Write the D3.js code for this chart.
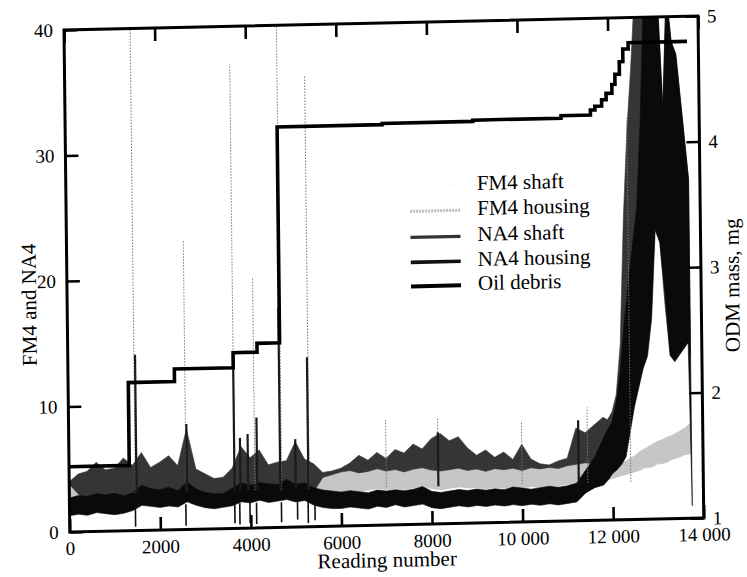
<!DOCTYPE html>
<html><head><meta charset="utf-8">
<script src="https://cdn.jsdelivr.net/npm/d3@7"></script>
<style>
body{margin:0;background:#fff}
svg{display:block}
text{font-family:"Liberation Serif","Times New Roman",serif;fill:#000}
</style>
</head><body>
<svg id="c" width="747" height="577"></svg>
<script>
// ---------- data ----------
const readings = [0,200,400,600,800,1000,1200,1400,1600,1800,
 2000,2200,2400,2600,2800,3000,3200,3400,3600,3800,
 4000,4200,4400,4600,4800,5000,5200,5400,5600,5800,
 6000,6200,6400,6600,6800,7000,7200,7400,7600,7800,
 8000,8200,8400,8600,8800,9000,9200,9400,9600,9800,
 10000,10200,10400,10600,10800,11000,11200,11400,11600,11800,
 11900,12000,12100,12200,12300,12400,12500,12600,12700,12800,
 12900,13000,13100,13200,13300,13400,13500,13600,13700,13750];

const na4HousingLo = [1.3,1.4,1.3,1.5,1.4,1.3,1.4,1.6,2.0,1.9,
 1.8,1.9,1.8,2.2,1.9,1.7,1.6,1.7,1.8,2.1,
 2.0,2.2,2.0,2.1,2.2,2.0,2.1,1.7,1.5,1.4,
 1.4,1.5,1.4,1.3,1.5,1.4,1.6,1.4,1.5,1.6,
 1.3,1.2,1.3,1.4,1.3,1.4,1.3,1.4,1.3,1.4,
 1.3,1.4,1.3,1.4,1.3,1.4,1.5,2.2,2.6,2.8,
 3.2,3.7,4.0,4.4,5.0,7.0,9.0,10.5,12,13,
 16,23,22,18,13,12.5,13,13.5,14,1.0];
const na4HousingHi = [2.7,2.9,2.8,3.0,2.9,3.0,2.8,3.0,3.6,3.3,
 3.2,3.4,3.1,3.8,3.2,2.9,2.8,2.8,3.2,3.6,
 3.4,3.6,3.5,3.4,3.8,3.4,3.5,3.1,2.9,2.8,
 2.7,2.8,2.7,2.6,2.8,2.7,2.8,2.7,2.8,3.0,
 2.6,2.5,2.6,2.7,2.6,2.7,2.6,2.7,2.6,2.8,
 2.7,2.6,2.7,2.8,2.7,2.8,3.0,4.0,5.0,6.5,
 7.2,7.8,9.4,12,16,19,22,25,32,42,
 42,42,42,33,42,38,37,33,29,27];

const na4ShaftLo = [3.8,3.0,2.5,2.7,2.6,2.7,2.8,2.9,3.0,2.9,
 2.8,2.9,2.8,3.2,2.9,2.6,2.5,2.6,2.8,3.0,
 3.0,3.1,3.0,3.0,3.1,3.2,3.0,2.8,3.9,4.1,
 4.3,4.4,4.2,4.3,4.5,4.3,4.4,4.2,4.4,4.5,
 4.3,4.2,4.3,4.4,4.2,4.3,4.1,4.3,4.2,4.3,
 4.1,4.3,4.2,4.3,4.2,4.4,4.5,4.6,4.5,5.0,
 5.2,5.4,5.8,6.5,8,10,11,12,13,14,
 17,24,22,17,13,13,13.5,14,14.5,13];
const na4ShaftHi = [4.0,4.6,4.8,5.5,4.9,5.0,5.8,5.2,6.2,5.0,
 5.4,5.9,5.1,8.0,4.8,4.4,4.0,4.1,4.8,6.5,
 5.6,6.2,5.0,5.2,5.3,6.8,5.4,5.0,4.3,4.4,
 4.6,5.0,5.6,5.2,5.8,5.3,6.0,5.7,6.4,6.0,
 6.8,7.2,6.6,6.9,6.0,5.4,5.8,5.2,5.6,5.0,
 6.2,5.0,4.6,4.5,4.8,5.0,7.4,7.0,7.6,8.2,
 8.0,8.6,10,14,24,31,36,42,42,42,
 42,42,42,32,42,38,37,33,29,27];

const fm4HousingLo = [2.0,2.2,2.0,2.1,2.0,2.1,2.0,2.2,2.3,2.2,
 2.1,2.2,2.1,2.3,2.1,2.0,1.9,2.0,2.1,2.2,
 2.2,2.3,2.2,2.3,2.3,2.2,2.3,2.3,2.4,2.6,
 2.7,2.8,2.7,2.8,2.9,2.8,2.9,2.8,2.9,3.0,
 2.8,2.7,2.8,2.9,2.8,2.8,2.7,2.8,2.7,2.8,
 2.7,2.8,2.7,2.8,2.8,2.9,2.9,2.8,3.0,3.2,
 3.2,3.3,3.4,3.5,3.6,3.7,3.8,3.9,4.1,4.1,
 4.2,4.4,4.4,4.5,4.7,4.8,4.9,5.1,5.1,5.2];
const fm4HousingHi = [3.8,3.6,3.4,3.5,3.3,3.4,3.3,3.5,3.6,3.4,
 3.3,3.5,3.3,3.6,3.3,3.1,3.0,3.1,3.3,3.4,
 3.4,3.5,3.4,3.5,3.6,3.4,3.5,3.6,4.0,4.2,
 4.4,4.5,4.3,4.4,4.6,4.4,4.5,4.3,4.5,4.6,
 4.4,4.3,4.4,4.5,4.3,4.4,4.2,4.4,4.3,4.4,
 4.2,4.4,4.3,4.4,4.3,4.5,4.6,4.6,4.4,4.3,
 4.2,4.2,4.3,4.5,4.7,4.9,5.1,5.4,5.6,5.8,
 6.0,6.2,6.3,6.5,6.6,6.8,7.0,7.2,7.5,7.6];

const na4ShaftSpikeAt  = [1485, 2600, 3650, 3780, 3950, 4150, 4660, 5000, 5280, 8150, 11250];
const na4ShaftSpikeTop = [14.0, 8.4, 13.0, 7.2, 7.5, 8.8, 17.5, 7.0, 13.5, 7.3, 8.0];
const fm4ShaftSpikeAt  = [1460, 2580, 3650, 4100, 4690, 5300, 7000, 8150, 10000, 11450, 12400];
const fm4ShaftSpikeTop = [41, 23, 37, 20, 41, 36, 8.4, 8.5, 8.0, 9.0, 32];
const na4HousingDropAt = [1455, 2570, 3650, 3760, 3985, 4130, 4680, 5035, 5270, 5420];
const na4HousingDropTo = [0.3, 0.3, 0.4, 0.3, 0.4, 0.3, 0.4, 0.6, 0.3, 0.5];

const oilReading = [0,1330,2350,3650,4180,4680,7000,9000,10950,11600,11700,11850,11950,12080,12150,12250,12330,12450,13750];
const oilMass    = [1.52,2.18,2.28,2.40,2.47,4.19,4.20,4.21,4.23,4.27,4.30,4.35,4.40,4.47,4.55,4.65,4.75,4.80,4.80];

const xTicks = [0,2000,4000,6000,8000,10000,12000,14000];
const xTickLabels = ["0","2000","4000","6000","8000","10 000","12 000","14 000"];
const yLeftTicks = [0,10,20,30,40];
const yRightTicks = [1,2,3,4,5];
const legendLabels = ["FM4 shaft","FM4 housing","NA4 shaft","NA4 housing","Oil debris"];

// ---------- chart ----------
const svg = d3.select("#c");
const L = 64, R = 698, T = 30, B = 532;
const x = d3.scaleLinear().domain([0,14000]).range([L,R]);
const yL = d3.scaleLinear().domain([0,40]).range([B,T]);
const yR = d3.scaleLinear().domain([1,5]).range([B,T]);

const g = svg.append("g").attr("transform","matrix(1,-0.0221,0.0115,1,-0.345,1.414)");

svg.append("defs").append("clipPath").attr("id","clip")
  .append("rect").attr("x",L).attr("y",T).attr("width",R-L).attr("height",B-T);

const plot = g.append("g").attr("clip-path","url(#clip)");
const idx = d3.range(readings.length);

function band(lo, hi, fill){
  plot.append("path").datum(idx)
    .attr("d", d3.area().x(i=>x(readings[i])).y0(i=>yL(lo[i])).y1(i=>yL(hi[i])))
    .attr("fill", fill).attr("stroke", fill).attr("stroke-width",0.6);
}
band(fm4HousingLo, fm4HousingHi, "#c6c6c6");
band(na4ShaftLo, na4ShaftHi, "#353535");
band(na4HousingLo, na4HousingHi, "#0a0a0a");

// FM4 shaft spikes (faint dotted)
plot.selectAll("line.fs").data(fm4ShaftSpikeAt).join("line")
  .attr("x1",d=>x(d)).attr("x2",d=>x(d))
  .attr("y1",yL(3)).attr("y2",(d,i)=>yL(fm4ShaftSpikeTop[i]))
  .attr("stroke","#777").attr("stroke-width",1).attr("stroke-dasharray","1.5,1.5");
// NA4 shaft spikes
plot.selectAll("line.ns").data(na4ShaftSpikeAt).join("line")
  .attr("x1",d=>x(d)).attr("x2",d=>x(d))
  .attr("y1",yL(3)).attr("y2",(d,i)=>yL(na4ShaftSpikeTop[i]))
  .attr("stroke","#1a1a1a").attr("stroke-width",2.2);
// NA4 housing dropouts
plot.selectAll("line.nd").data(na4HousingDropAt).join("line")
  .attr("x1",d=>x(d)).attr("x2",d=>x(d))
  .attr("y1",yL(2)).attr("y2",(d,i)=>yL(na4HousingDropTo[i]))
  .attr("stroke","#111").attr("stroke-width",1.6);

// oil debris
plot.append("path").datum(d3.range(oilReading.length))
  .attr("d", d3.line().x(i=>x(oilReading[i])).y(i=>yR(oilMass[i])).curve(d3.curveStepAfter))
  .attr("fill","none").attr("stroke","#000").attr("stroke-width",3.6);

// axes
function styleAxis(sel){
  sel.select(".domain").remove();
  sel.selectAll(".tick line").attr("stroke","#000").attr("stroke-width",2.6);
  sel.selectAll(".tick text").attr("font-size",19).attr("fill","#000")
     .style("font-family",'"Liberation Serif","Times New Roman",serif');
}
g.append("g").attr("transform",`translate(0,${B})`)
  .call(d3.axisBottom(x).tickValues(xTicks).tickFormat((d,i)=>xTickLabels[i]).tickSize(-13).tickPadding(9.5))
  .call(styleAxis);
g.append("g").attr("transform",`translate(0,${T})`)
  .call(d3.axisTop(x).tickValues(xTicks).tickFormat("").tickSize(-13))
  .call(styleAxis);
g.append("g").attr("transform",`translate(${L},0)`)
  .call(d3.axisLeft(yL).tickValues(yLeftTicks).tickFormat(d3.format("d")).tickSize(-13).tickPadding(11))
  .call(styleAxis);
g.append("g").attr("transform",`translate(${R},0)`)
  .call(d3.axisRight(yR).tickValues(yRightTicks).tickFormat(d3.format("d")).tickSize(-13).tickPadding(9))
  .call(styleAxis);

g.append("rect").attr("x",L).attr("y",T).attr("width",R-L).attr("height",B-T)
  .attr("fill","none").attr("stroke","#000").attr("stroke-width",3);

// titles
g.append("text").attr("x",381).attr("y",574).attr("text-anchor","middle")
  .attr("font-size",21).text("Reading number");
g.append("text").attr("transform","translate(33,304) rotate(-90)").attr("text-anchor","middle")
  .attr("font-size",21).text("FM4 and NA4");
g.append("text").attr("transform","translate(736,300) rotate(-90)").attr("text-anchor","middle")
  .attr("font-size",21).text("ODM mass, mg");

// legend
const legStyles = [
  {stroke:"#eeeeee", w:1, dash:"1,2"},
  {stroke:"#bdbdbd", w:3, dash:"2,1"},
  {stroke:"#333", w:3.2, dash:null},
  {stroke:"#111", w:3.6, dash:null},
  {stroke:"#000", w:4, dash:null}
];
const legY = [199,224,250,275,299];
const leg = g.append("g");
legendLabels.forEach((lab,i)=>{
  const s = legStyles[i];
  const ln = leg.append("line").attr("x1",408).attr("x2",458)
    .attr("y1",legY[i]-5).attr("y2",legY[i]-5)
    .attr("stroke",s.stroke).attr("stroke-width",s.w);
  if(s.dash) ln.attr("stroke-dasharray",s.dash);
  leg.append("text").attr("x",475).attr("y",legY[i]).attr("font-size",21).text(lab);
});
</script>
</body></html>
